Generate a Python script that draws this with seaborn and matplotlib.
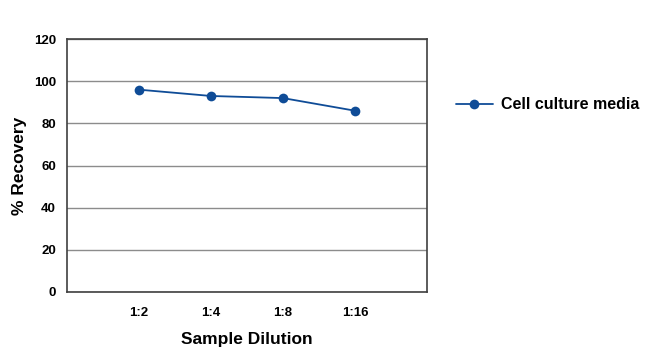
import matplotlib
matplotlib.use('Agg')
import matplotlib.pyplot as plt
import seaborn as sns
import pandas as pd

# Data
dilutions = ['1:2', '1:4', '1:8', '1:16']
recovery = [96, 93, 92, 86]
series_name = 'Cell culture media'
y_ticks = [0, 20, 40, 60, 80, 100, 120]

df = pd.DataFrame({'Sample Dilution': dilutions, '% Recovery': recovery,
                   'Series': series_name})

sns.set_style('white')
plt.rcParams['font.family'] = ['Liberation Sans', 'DejaVu Sans']
plt.rcParams['font.weight'] = 'bold'
plt.rcParams['text.color'] = 'black'
plt.rcParams['axes.labelcolor'] = 'black'
plt.rcParams['xtick.labelcolor'] = 'black'
plt.rcParams['ytick.labelcolor'] = 'black'

blue = '#0f4c97'
fig = plt.figure(figsize=(6.5, 3.52), dpi=100)
ax = fig.add_axes([0.103, 0.1705, 0.554, 0.7185])

sns.lineplot(data=df, x='Sample Dilution', y='% Recovery', hue='Series',
             palette=[blue], marker='o', markersize=7, markeredgewidth=0,
             linewidth=1.3, sort=False, ax=ax, legend=True)

ax.set_xlim(-1, 4)
ax.set_ylim(0, 120)
ax.set_yticks(y_ticks)
ax.yaxis.grid(True, color='#8c8c8c', linewidth=1)
ax.set_axisbelow(True)
for s in ax.spines.values():
    s.set_color('#404040')
    s.set_linewidth(1.2)
ax.tick_params(axis='both', direction='out', length=4, width=1, color='#404040',
               labelsize=9.5, pad=4, labelcolor='black')
ax.tick_params(axis='x', pad=7)
for lbl in ax.get_xticklabels() + ax.get_yticklabels():
    lbl.set_fontweight('bold')
ax.set_xlabel('Sample Dilution', fontsize=12.5, fontweight='bold', labelpad=9.5)
ax.set_ylabel('% Recovery', fontsize=12.5, fontweight='bold', labelpad=5)

handles, labels = ax.get_legend_handles_labels()
ax.legend_.remove()
fig.legend(handles, labels, loc='center left', bbox_to_anchor=(0.7015, 0.702),
           frameon=False, prop={'size': 11.5, 'weight': 'bold'},
           borderpad=0, borderaxespad=0, handlelength=2.3, handletextpad=0.55,
           labelcolor='black')

plt.savefig('out.png', dpi=100)
plt.close()
